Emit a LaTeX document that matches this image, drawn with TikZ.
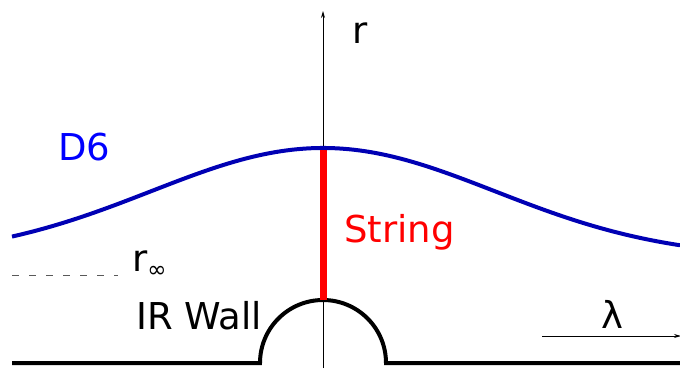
\documentclass[tikz,border=0pt]{standalone}
\usepackage{fontspec}
\setmainfont{DejaVu Sans}
\usetikzlibrary{arrows.meta}
\definecolor{dsix}{RGB}{0,0,180}
\begin{document}
\begin{tikzpicture}[x=1pt,y=-1pt,
  lbl/.style={inner sep=0pt,anchor=base west,font=\fontsize{37}{44}\selectfont},
  thinax/.style={line width=0.8pt,-{Stealth[length=7pt,width=4pt]}}]
\useasboundingbox (0,0) rectangle (680,368);
% axes
\coordinate (axbot) at (323,368);
\coordinate (axtop) at (323,11);
\draw[thinax] (axbot) -- (axtop);
\coordinate (lstart) at (542,336);
\coordinate (lend) at (681,336);
\draw[thinax] (lstart) -- (lend);
% wall
\coordinate (wl) at (12,363);
\coordinate (wr) at (680,363);
\draw[line width=4pt] (wl) -- (260,363) arc[start angle=180,end angle=360,radius=63] -- (wr);
% string
\coordinate (stbot) at (323,300);
\coordinate (sttop) at (323,148);
\draw[red,line width=7pt] (stbot) -- (sttop);
% D6 brane
\draw[dsix,line width=4pt,line cap=butt] plot[domain=12:680,samples=120,smooth] (\x,{148+110*(1-exp(-0.5*((\x-323)/172)^2))});
% r infinity dashed
\coordinate (da) at (12,275);
\coordinate (db) at (118,275);
\draw[gray!70!black,line width=0.7pt,dash pattern=on 7pt off 10pt] (da) -- (db);
% labels
\node[lbl] (rlab) at (352,43) {r};
\node[lbl,text=blue] (d6) at (58,160) {D6};
\node[lbl,text=red] (str) at (344,242) {String};
\node[lbl] (irw) at (136,329) {IR Wall};
\node[lbl] (rinf) at (132,271) {r\raisebox{-6pt}{\fontsize{23}{27}\selectfont ∞}};
\node[lbl] (lam) at (601,328) {λ};
\end{tikzpicture}
\end{document}
